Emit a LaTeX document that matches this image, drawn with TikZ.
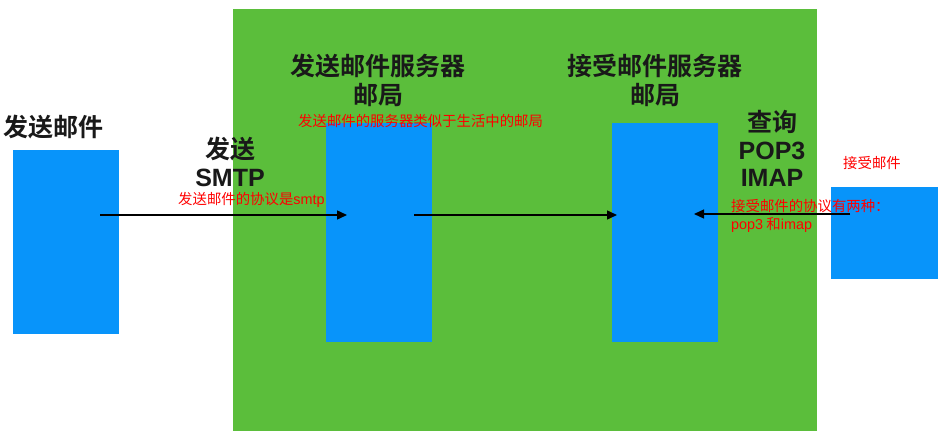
\documentclass[tikz,border=0pt]{standalone}
\usepackage{fontspec}
\setmainfont{Noto Sans CJK SC}[BoldFont=Noto Sans CJK SC Bold]
\newfontfamily\latinb{Liberation Sans}[BoldFont=Liberation Sans Bold]
\usetikzlibrary{arrows.meta}
\definecolor{bggreen}{RGB}{91,190,59}
\definecolor{boxblue}{RGB}{8,148,250}
\definecolor{notered}{RGB}{255,0,0}
\begin{document}
\begin{tikzpicture}[x=1pt,y=-1pt,
  bluebox/.style={fill=boxblue,draw=none,inner sep=0pt,outer sep=0pt},
  title/.style={font=\fontsize{25}{29}\selectfont\bfseries,align=center,inner sep=0pt,text=black!90},
  note/.style={font=\fontsize{14.4}{18}\selectfont,text=notered,inner sep=0pt},
  link/.style={draw=black,line width=1.4pt,-{Triangle[length=10pt,width=9pt]}}]
\useasboundingbox (0,0) rectangle (945,438);
\fill[white] (0,0) rectangle (945,438);
\node[fill=bggreen,inner sep=0pt,minimum width=584pt,minimum height=422pt,anchor=north west] (green) at (233,9) {};
% blue boxes
\node[bluebox,anchor=north west,minimum width=106pt,minimum height=184pt] (sender) at (13,150) {};
\node[bluebox,anchor=north west,minimum width=106pt,minimum height=219pt] (sserver) at (326,123) {};
\node[bluebox,anchor=north west,minimum width=106pt,minimum height=219pt] (rserver) at (612,123) {};
\node[bluebox,anchor=north west,minimum width=107pt,minimum height=92pt] (receiver) at (831,187) {};
% titles
\node[title] (tsend) at (53,127) {发送邮件};
\node[title] (tsmtp1) at (230,149) {发送};
\node[title] (tsmtp2) at (230,178) {{\latinb\bfseries SMTP}};
\node[title] (tss) at (378,80) {发送邮件服务器\\邮局};
\node[title] (trs) at (655,80) {接受邮件服务器\\邮局};
\node[title] (tq1) at (772,122) {查询};
\node[title] (tq2) at (772,151) {{\latinb\bfseries POP3}};
\node[title] (tq3) at (772,178) {{\latinb\bfseries IMAP}};
% notes
\node[note,anchor=west] (n1) at (178,200) {发送邮件的协议是{\latinb smtp}};
\node[note,anchor=west] (n2) at (298,121) {发送邮件的服务器类似于生活中的邮局};
\node[note,anchor=west] (n3) at (843,163) {接受邮件};
\node[note,anchor=west] (n4) at (731,206) {接受邮件的协议有两种：};
\node[note,anchor=west] (n5) at (731,225) {{\latinb pop3} 和{\latinb imap}};
% arrows
\coordinate (a1s) at (100,215);
\coordinate (a1e) at (347,215);
\coordinate (a2s) at (414,215);
\coordinate (a2e) at (617,215);
\coordinate (a3s) at (850,214);
\coordinate (a3e) at (694,214);
\draw[link] (a1s) -- (a1e);
\draw[link] (a2s) -- (a2e);
\draw[link] (a3s) -- (a3e);
\end{tikzpicture}
\end{document}
